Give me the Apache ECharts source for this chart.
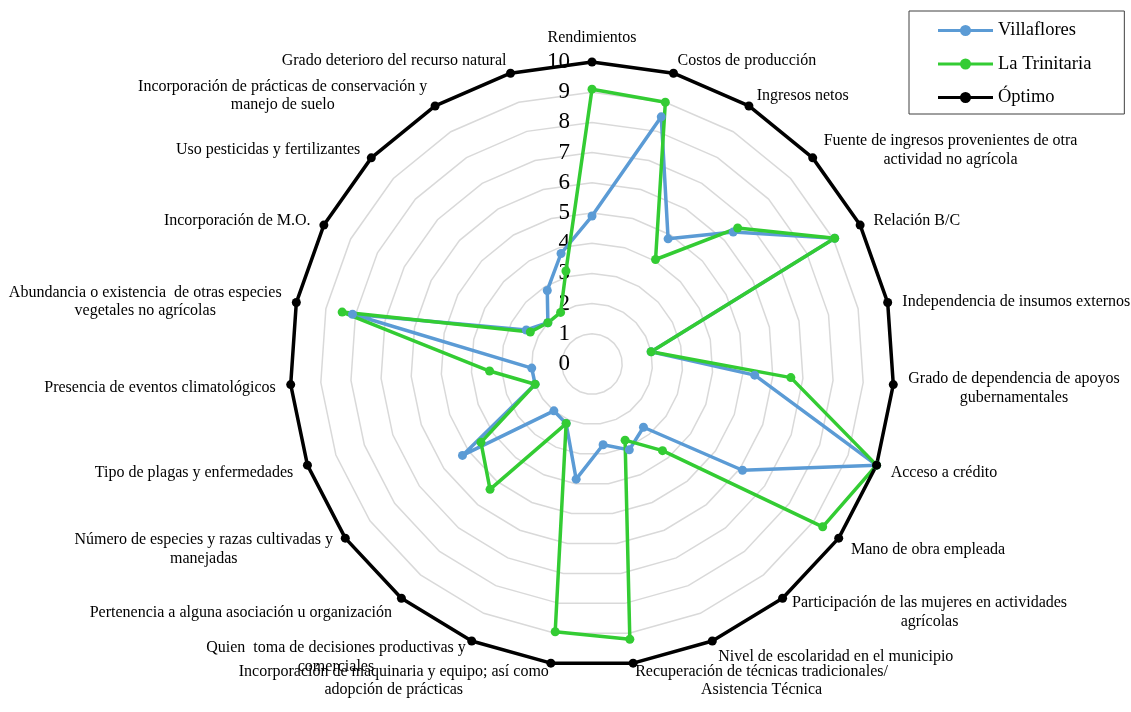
<!DOCTYPE html>
<html>
<head>
<meta charset="utf-8">
<script src="https://cdn.jsdelivr.net/npm/echarts@6/dist/echarts.min.js"></script>
<style>
  html, body { margin: 0; padding: 0; background: #ffffff; }
  #chart { width: 1131px; height: 712px; }
</style>
</head>
<body>
<div id="chart"></div>
<script>
// Indicators, listed clockwise starting from the top spoke
const categories = [
  'Rendimientos',
  'Costos de producción',
  'Ingresos netos',
  'Fuente de ingresos provenientes de otra\nactividad no agrícola',
  'Relación B/C',
  'Independencia de insumos externos',
  'Grado de dependencia de apoyos\ngubernamentales',
  'Acceso a crédito',
  'Mano de obra empleada',
  'Participación de las mujeres en actividades\nagrícolas',
  'Nivel de escolaridad en el municipio',
  'Recuperación de técnicas tradicionales/\nAsistencia Técnica',
  'Incorporación de maquinaria y equipo; así como\nadopción de prácticas',
  'Quien  toma de decisiones productivas y\ncomerciales',
  'Pertenencia a alguna asociación u organización',
  'Número de especies y razas cultivadas y\nmanejadas',
  'Tipo de plagas y enfermedades',
  'Presencia de eventos climatológicos',
  'Abundancia o existencia  de otras especies\nvegetales no agrícolas',
  'Incorporación de M.O.',
  'Uso pesticidas y fertilizantes',
  'Incorporación de prácticas de conservación y\nmanejo de suelo',
  'Grado deterioro del recurso natural'
];

const villaflores = [4.9, 8.5, 4.85, 6.4, 9.05, 2.0, 5.4, 10, 6.1, 2.7, 3.1, 2.7,
                     3.85, 2.15, 2.0, 5.25, 2.0, 2.0, 8.1, 2.45, 2.0, 2.85, 3.8];
const laTrinitaria = [9.1, 9.0, 4.05, 6.6, 9.05, 2.0, 6.6, 10, 9.35, 3.7, 2.75, 9.2,
                      8.95, 2.15, 5.35, 4.5, 2.0, 3.4, 8.45, 2.3, 2.0, 2.0, 3.2];
const optimo = [10, 10, 10, 10, 10, 10, 10, 10, 10, 10, 10, 10,
                10, 10, 10, 10, 10, 10, 10, 10, 10, 10, 10];

const seriesNames = ['Villaflores', 'La Trinitaria', 'Óptimo'];
const seriesColors = ['#5B9BD5', '#33CC33', '#000000'];

// Scale of the value axis: 0 to 10 in steps of 1
const scaleMin = 0;
const scaleMax = 10;
const scaleSteps = 10;

const SERIF = '"Liberation Serif", "Times New Roman", serif';

// ECharts lays radar indicators out counter-clockwise; keep the first
// one on top and reverse the rest so the spokes run clockwise.
function clockwise(arr) {
  return [arr[0]].concat(arr.slice(1).reverse());
}

const orderedNames = clockwise(categories);
const indicator = orderedNames.map(function (name, i) {
  const ind = { name: name, min: scaleMin, max: scaleMax };
  if (i === 0) {
    ind.axisLabel = {
      show: true,
      fontFamily: SERIF,
      fontSize: 23,
      color: '#000000',
      margin: 22,
      align: 'right',
      verticalAlign: 'middle'
    };
  }
  return ind;
});

// Legend glyph: a short line with a round marker in the middle
const legendIcon = 'path://M0,4.5 H55 V7.5 H0 Z M22,6 a5.5,5.5 0 1,1 11,0 a5.5,5.5 0 1,1 -11,0 Z';

const chart = echarts.init(document.getElementById('chart'), null, { renderer: 'canvas' });

chart.setOption({
  backgroundColor: '#ffffff',
  animation: false,
  legend: {
    orient: 'vertical',
    left: 909,
    top: 11,
    padding: [10, 33, 7, 29],
    itemWidth: 55,
    itemHeight: 12,
    itemGap: 14.5,
    borderColor: '#404040',
    borderWidth: 1,
    data: seriesNames.map(function (n, i) {
      return { name: n, icon: legendIcon, itemStyle: { color: seriesColors[i] } };
    }),
    textStyle: {
      fontFamily: SERIF,
      fontSize: 18.5,
      lineHeight: 18,
      color: '#000000'
    }
  },
  radar: {
    center: [592, 364],
    radius: 302,
    startAngle: 90,
    shape: 'polygon',
    splitNumber: scaleSteps,
    nameGap: 15,
    indicator: indicator,
    axisName: {
      color: '#000000',
      fontFamily: SERIF,
      fontSize: 16,
      lineHeight: 18.5,
      padding: [5, 0, 0, 0],
      formatter: function (name) {
        return name.split('\n').map(function (l) { return '{c|' + l + '}'; }).join('\n');
      },
      rich: {
        c: {
          align: 'center',
          color: '#000000',
          fontFamily: SERIF,
          fontSize: 16,
          lineHeight: 18.5
        }
      }
    },
    axisLine: { show: false },
    axisTick: { show: false },
    axisLabel: { show: false },
    splitArea: { show: false },
    splitLine: { lineStyle: { color: '#D9D9D9', width: 1.5 } }
  },
  series: [{
    type: 'radar',
    symbol: 'circle',
    data: [
      {
        name: seriesNames[0],
        value: clockwise(villaflores),
        symbolSize: 9,
        itemStyle: { color: seriesColors[0] },
        lineStyle: { color: seriesColors[0], width: 3.5 }
      },
      {
        name: seriesNames[1],
        value: clockwise(laTrinitaria),
        symbolSize: 9,
        itemStyle: { color: seriesColors[1] },
        lineStyle: { color: seriesColors[1], width: 3.5 }
      },
      {
        name: seriesNames[2],
        value: clockwise(optimo),
        symbolSize: 9,
        itemStyle: { color: seriesColors[2] },
        lineStyle: { color: seriesColors[2], width: 3.5 }
      }
    ]
  }]
});
</script>
</body>
</html>
